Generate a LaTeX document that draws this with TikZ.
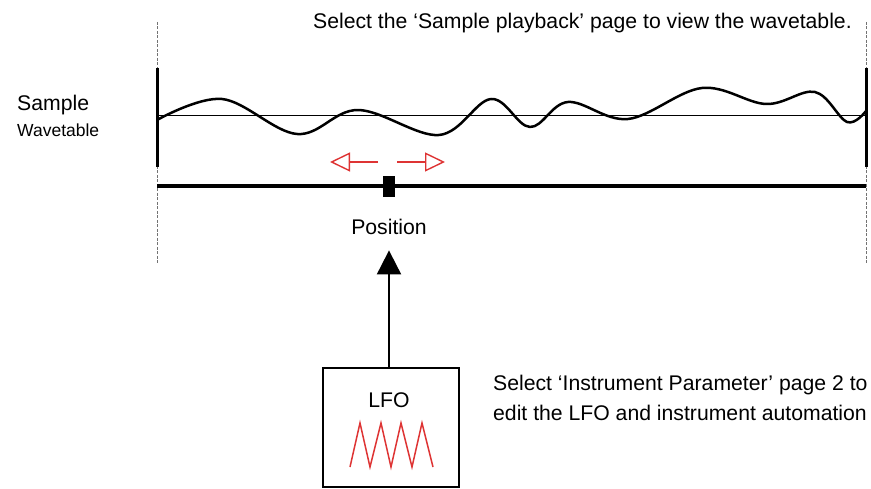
\documentclass[tikz,border=0pt]{standalone}
\usepackage{fontspec}
\setmainfont{Liberation Sans}
\usepackage{tikz}
\usetikzlibrary{arrows.meta}
\definecolor{lfored}{RGB}{222, 52, 52}
\definecolor{guide}{gray}{0.45}

\tikzset{
	txt/.style={font=\fontsize{21.2}{25}\selectfont, inner sep=0pt},
	smalltxt/.style={font=\fontsize{17.5}{21}\selectfont, inner sep=0pt},
	guideline/.style={guide, line width=1pt, dash pattern=on 3pt off 1.5pt},
	redarrow/.style={lfored, line width=1.4pt, -{Triangle[open, length=20pt, width=19pt, line width=1.4pt]}},
}

\begin{document}
\begin{tikzpicture}[x=1pt, y=-1pt]
	\useasboundingbox (0,0) rectangle (871,489);
	\def\xl{157}
	\def\xr{866}
	\def\ym{116}
	\def\yb{186}
	% guide lines at both ends of the sample
	\coordinate (gla) at (\xl, 22);  \coordinate (glb) at (\xl, 265);
	\coordinate (gra) at (\xr, 22);  \coordinate (grb) at (\xr, 265);
	\draw[guideline] (gla) -- (glb);
	\draw[guideline] (gra) -- (grb);
	% end bars
	\draw[line width=3pt] (\xl, 68) -- (\xl, 167);
	\draw[line width=3pt] (\xr, 68) -- (\xr, 167);
	% zero line
	\draw[line width=1pt] (\xl, \ym) -- (\xr, \ym);
	% wave
	\draw[line width=2.5pt, line join=round] plot[smooth, tension=0.6] coordinates {
		(\xl,120) (222,99) (297,134) (358,110) (439,135) (491,99)
		(530,127) (568,102) (628,119) (702,88) (766,104) (815,92)
		(847,122) (\xr,111)};
	% position bar and marker
	\draw[line width=4pt] (\xl, \yb) -- (\xr, \yb);
	\fill (383, 176) rectangle (395, 197);
	% red direction arrows
	\coordinate (la) at (378, 162);  \coordinate (lb) at (330, 162);
	\coordinate (ra) at (397, 162);  \coordinate (rb) at (445, 162);
	\draw[redarrow] (la) -- (lb);
	\draw[redarrow] (ra) -- (rb);

	% texts
	\node[txt, anchor=base west] (title) at (313, 29) {Select the ‘Sample playback’ page to view the wavetable.};
	\node[txt, anchor=base west] (sample) at (17, 110.5) {Sample};
	\node[smalltxt, anchor=base west] (wavetable) at (17, 137) {Wavetable};
	\node[txt, anchor=base] (pos) at (389, 235) {Position};
	\node[txt, anchor=base west, align=left] (note) at (493, 420) {Select ‘Instrument Parameter’ page 2 to\\[4pt]edit the LFO and instrument automation};

	% LFO box
	\node[draw, line width=1.5pt, minimum width=136pt, minimum height=119pt, inner sep=0pt] (lfo) at (391, 427.5) {};
	\node[txt, anchor=base] (lfolabel) at (389, 407) {LFO};
	\draw[lfored, line width=1.5pt] (350,467) -- (360,423) -- (370,467) -- (381,423) -- (391,467)
		-- (401,423) -- (412,467) -- (422,423) -- (433,467);
	\draw[line width=2pt, -{Triangle[length=24pt, width=24pt]}, shorten >=15pt] (lfo.north -| pos.south) -- (pos.south);

\end{tikzpicture}
\end{document}
